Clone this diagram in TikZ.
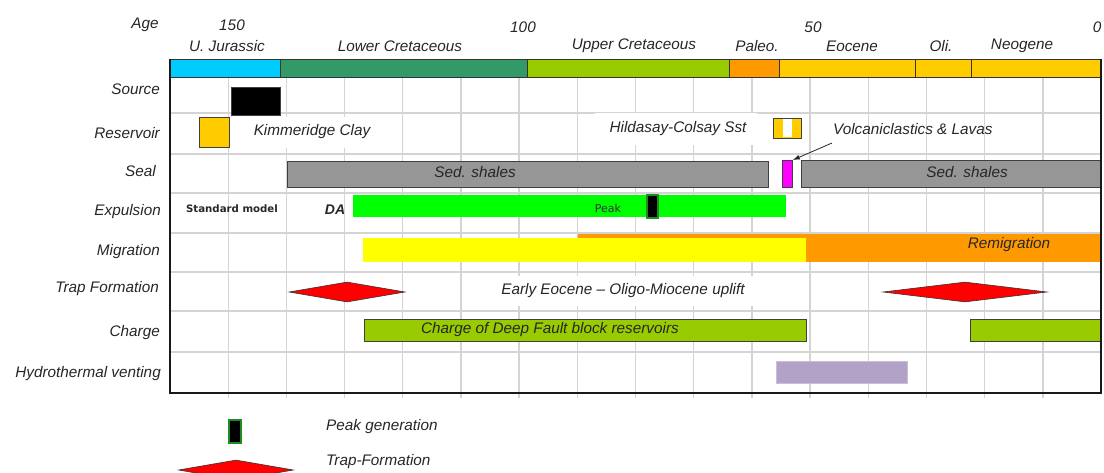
\documentclass[tikz,border=0pt]{standalone}
\usepackage{fontspec}
\setmainfont{Liberation Sans}
\newfontfamily\verdana{DejaVu Sans}
\usetikzlibrary{shapes.geometric,arrows.meta}
\definecolor{cyanj}{HTML}{00CCFF}
\definecolor{lowcr}{HTML}{339966}
\definecolor{upcr}{HTML}{99CC00}
\definecolor{paleoc}{HTML}{FF9900}
\definecolor{goldc}{HTML}{FFCC00}
\definecolor{sealgray}{HTML}{969696}
\definecolor{gridgray}{HTML}{D4D4D4}
\definecolor{purp}{HTML}{B3A2C7}
\definecolor{peakgreen}{HTML}{1E8C1E}
\definecolor{brightgreen}{HTML}{00FF00}
\definecolor{yelc}{HTML}{FFFF00}
\definecolor{redc}{HTML}{FF0000}
\definecolor{magc}{HTML}{FF00FF}
\tikzset{
  lab/.style={font=\itshape\fontsize{15.3}{17}\selectfont, inner sep=0pt, text=black!85},
  rowlab/.style={lab, anchor=east},
  cell/.style={draw=black!80, line width=0.8pt, inner sep=0pt, anchor=north west},
  barbox/.style={draw=black!75, line width=0.8pt, inner sep=0pt, anchor=north west},
  flat/.style={draw=none, inner sep=0pt, anchor=north west},
  whitebox/.style={fill=white, draw=none, inner sep=0pt},
  trap/.style={diamond, fill=redc, draw=black!80, line width=0.6pt, inner sep=0pt},
  peakmark/.style={fill=black, draw=peakgreen, line width=2.2pt, inner sep=0pt, anchor=north west},
  gridline/.style={draw=gridgray, line width=1.3pt},
}
\begin{document}
\begin{tikzpicture}[x=1pt, y=-1pt]
\useasboundingbox (0,0) rectangle (1104,473);
% grid
\foreach \k in {1,...,15} {
  \draw[gridline] ({170+58.19*\k},77) -- ({170+58.19*\k},398);
}
\foreach \yy in {113,154,193,233,272,311,352} {
  \draw[gridline] (170,\yy) -- (1101,\yy);
}
% header
\node[lab] (age) at (145,25) {Age};
\node[lab] (a150) at (232,25) {150};
\node[lab] (a100) at (523,27) {100};
\node[lab] (a50) at (813,27) {50};
\node[lab] (a0) at (1097,27) {0};
\node[cell, fill=cyanj, minimum width=110, minimum height=18] (uj) at (170,59) {};
\node[cell, fill=lowcr, minimum width=247, minimum height=18] (lc) at (280,59) {};
\node[cell, fill=upcr, minimum width=202, minimum height=18] (uc) at (527,59) {};
\node[cell, fill=paleoc, minimum width=50, minimum height=18] (pa) at (729,59) {};
\node[cell, fill=goldc, minimum width=136, minimum height=18] (eo) at (779,59) {};
\node[cell, fill=goldc, minimum width=56, minimum height=18] (ol) at (915,59) {};
\node[cell, fill=goldc, minimum width=130, minimum height=18] (ne) at (971,59) {};
\node[lab] (tuj) at (227,46) {U. Jurassic};
\node[lab] (tlc) at (400,46) {Lower Cretaceous};
\node[lab] (tuc) at (634,46) {Upper Cretaceous};
\node[lab] (tpa) at (757,46) {Paleo.};
\node[lab] (teo) at (852,46) {Eocene};
\node[lab] (tol) at (941,46) {Oli.};
\node[lab] (tne) at (1022,46) {Neogene};
% row labels
\node[rowlab] (lsource) at (160,89) {Source};
\node[rowlab] (lres) at (160,133) {Reservoir};
\node[rowlab] (lseal) at (156,171) {Seal};
\node[rowlab] (lexp) at (161,212) {Expulsion};
\node[rowlab] (lmig) at (160,252) {Migration};
\node[rowlab] (ltrap) at (159,289) {Trap Formation};
\node[rowlab] (lcharge) at (160,333) {Charge};
\node[rowlab] (lhydro) at (161,374) {Hydrothermal venting};
% source
\node[barbox, fill=black, minimum width=49, minimum height=28] (src) at (231,87) {};
% reservoir
\node[barbox, fill=goldc, minimum width=30, minimum height=30] (res1) at (199,117) {};
\node[whitebox, minimum width=140, minimum height=31] (kim) at (310,132.5) {};
\node[lab] (kimt) at (312,132) {Kimmeridge Clay};
\node[whitebox, minimum width=162, minimum height=32] (hild) at (676,129) {};
\node[lab] (hildt) at (678,129) {Hildasay-Colsay Sst};
\node[barbox, fill=goldc, minimum width=28, minimum height=20] (res2) at (773,118) {};
\node[flat, fill=white, minimum width=9, minimum height=18.4] (res2w) at (783,118.8) {};
\node[lab, anchor=west] (volc) at (833,129) {Volcaniclastics \& Lavas};
% seal
\node[barbox, fill=sealgray, minimum width=481, minimum height=26] (seal1) at (287,161) {};
\node[lab] (seal1t) at (475,172) {Sed. shales};
\node[barbox, fill=magc, minimum width=10, minimum height=27] (volcbox) at (782,160) {};
\node[barbox, fill=sealgray, minimum width=300, minimum height=27] (seal2) at (801,160) {};
\node[lab] (seal2t) at (967,172) {Sed. shales};
\draw[-{Latex[length=7pt,width=5pt]}, draw=black!85, line width=0.8pt] ([xshift=-1pt,yshift=-14pt]volc.west) -- (volcbox.north east);
% expulsion
\node[inner sep=0pt, font=\verdana\bfseries\fontsize{10.2}{12}\selectfont, text=black!85] (std) at (232,209) {Standard model};
\node[inner sep=0pt, font=\bfseries\itshape\fontsize{14}{16}\selectfont, text=black!85] (da) at (335,210) {DA};
\node[flat, fill=brightgreen, minimum width=433, minimum height=22] (exp) at (353,195) {};
\node[inner sep=0pt, font=\verdana\fontsize{11}{12}\selectfont, text=black!80] (peakt) at (608,208) {Peak};
\node[peakmark, minimum width=11, minimum height=23] (peak) at (646,194) {};
% migration
\node[flat, fill=paleoc, minimum width=523, minimum height=28] (remig) at (578,234) {};
\node[flat, fill=yelc, minimum width=443, minimum height=24] (mig) at (363,238) {};
\node[lab] (remigt) at (1009,245) {Remigration};
% trap
\node[trap, minimum width=116, minimum height=20] (trap1) at (347,292) {};
\node[trap, minimum width=164, minimum height=20] (trap2) at (965,292) {};
\node[whitebox, minimum width=270, minimum height=30] (uplift) at (620,291) {};
\node[lab] (upliftt) at (623,291) {Early Eocene -- Oligo-Miocene uplift};
% charge
\node[barbox, fill=upcr, minimum width=442, minimum height=22] (charge1) at (364,319) {};
\node[lab] (charget) at (550,330) {Charge of Deep Fault block reservoirs};
\node[barbox, fill=upcr, minimum width=131, minimum height=22] (charge2) at (970,319) {};
% hydrothermal
\node[flat, fill=purp, draw=purp!70!white, line width=0.5pt, minimum width=131, minimum height=22] (hyd) at (776,361) {};
% frame
\draw[black!90, line width=1.6pt] (170,59) -- (170,393) -- (1101,393) -- (1101,59);
% legend
\node[peakmark, minimum width=12, minimum height=23] (legpeak) at (227.5,418.5) {};
\node[lab, anchor=west] (legpeakt) at (326,427) {Peak generation};
\node[trap, minimum width=115, minimum height=20] (legtrap) at (236,470) {};
\node[lab, anchor=west] (legtrapt) at (326,462) {Trap-Formation};
\end{tikzpicture}
\end{document}
